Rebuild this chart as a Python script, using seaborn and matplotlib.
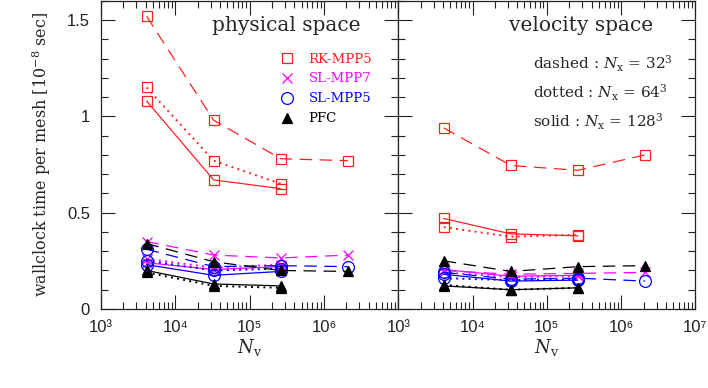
import numpy as np
import pandas as pd
import seaborn as sns
import matplotlib.pyplot as plt
from matplotlib.lines import Line2D
from matplotlib.ticker import FixedLocator, LogLocator, FuncFormatter, MultipleLocator

# N_v = 16^3, 32^3, 64^3, 128^3
nv = [4096, 32768, 262144, 2097152]

# physical space, units 1e-8 sec
rk_phys_32 = [1.52, 0.98, 0.78, 0.77]
rk_phys_64 = [1.15, 0.77, 0.65]
rk_phys_128 = [1.08, 0.67, 0.625]
sl7_phys_32 = [0.35, 0.28, 0.265, 0.28]
sl7_phys_64 = [0.26, 0.215, 0.23]
sl7_phys_128 = [0.24, 0.205, 0.22]
sl5_phys_32 = [0.31, 0.22, 0.225, 0.22]
sl5_phys_64 = [0.25, 0.20, 0.21]
sl5_phys_128 = [0.23, 0.175, 0.195]
pfc_phys_32 = [0.34, 0.245, 0.20, 0.195]
pfc_phys_64 = [0.19, 0.12, 0.11]
pfc_phys_128 = [0.20, 0.13, 0.12]

# velocity space
rk_vel_32 = [0.94, 0.745, 0.72, 0.80]
rk_vel_64 = [0.425, 0.375, 0.385]
rk_vel_128 = [0.47, 0.39, 0.38]
sl7_vel_32 = [0.20, 0.18, 0.185, 0.19]
sl7_vel_64 = [0.19, 0.165, 0.17]
sl7_vel_128 = [0.205, 0.17, 0.175]
sl5_vel_32 = [0.19, 0.155, 0.16, 0.145]
sl5_vel_64 = [0.16, 0.15, 0.155]
sl5_vel_128 = [0.18, 0.145, 0.15]
pfc_vel_32 = [0.25, 0.195, 0.22, 0.225]
pfc_vel_64 = [0.125, 0.10, 0.11]
pfc_vel_128 = [0.12, 0.10, 0.11]

schemes = ['RK-MPP5', 'SL-MPP7', 'SL-MPP5', 'PFC']
nx_labels = ['32', '64', '128']

data = {
    'physical': {
        'RK-MPP5': [rk_phys_32, rk_phys_64, rk_phys_128],
        'SL-MPP7': [sl7_phys_32, sl7_phys_64, sl7_phys_128],
        'SL-MPP5': [sl5_phys_32, sl5_phys_64, sl5_phys_128],
        'PFC': [pfc_phys_32, pfc_phys_64, pfc_phys_128],
    },
    'velocity': {
        'RK-MPP5': [rk_vel_32, rk_vel_64, rk_vel_128],
        'SL-MPP7': [sl7_vel_32, sl7_vel_64, sl7_vel_128],
        'SL-MPP5': [sl5_vel_32, sl5_vel_64, sl5_vel_128],
        'PFC': [pfc_vel_32, pfc_vel_64, pfc_vel_128],
    },
}

rows = []
for space, d in data.items():
    for sch, series in d.items():
        for nx, vals in zip(nx_labels, series):
            for x, y in zip(nv, vals):
                rows.append((space, sch, nx, x, y))
df = pd.DataFrame(rows, columns=['space', 'scheme', 'nx', 'nv', 'time'])

colors = {'RK-MPP5': '#ff2020', 'SL-MPP7': '#ff00ff', 'SL-MPP5': '#0000ff', 'PFC': 'black'}
markers = {'RK-MPP5': 's', 'SL-MPP7': 'x', 'SL-MPP5': 'o', 'PFC': '^'}
linestyles = {'32': (0, (10, 6)), '64': (0, (1, 2.2)), '128': '-'}
linewidths = {'32': 0.9, '64': 1.4, '128': 0.9}

sns.set_style('ticks')
plt.rcParams['font.family'] = ['Liberation Sans', 'DejaVu Sans']
plt.rcParams['mathtext.fontset'] = 'dejavuserif'
plt.rcParams['xtick.direction'] = 'in'
plt.rcParams['ytick.direction'] = 'in'
plt.rcParams['axes.edgecolor'] = '#222222'

fig, axes = plt.subplots(1, 2, figsize=(7.08, 3.88), dpi=100, sharey=True)
fig.subplots_adjust(left=0.1427, right=0.9823, bottom=0.2036, top=0.998, wspace=0)

sup = {3: '\u00b3', 4: '\u2074', 5: '\u2075', 6: '\u2076', 7: '\u2077'}

for ax, space in zip(axes, ['physical', 'velocity']):
    sub = df[df.space == space]
    for sch in schemes:
        for nx in nx_labels:
            s = sub[(sub.scheme == sch) & (sub.nx == nx)]
            filled = sch == 'PFC'
            sns.lineplot(data=s, x='nv', y='time', ax=ax, color=colors[sch],
                         linestyle=linestyles[nx], linewidth=linewidths[nx],
                         marker=markers[sch], markersize=7.5 if sch != 'SL-MPP5' else 8.5,
                         markerfacecolor=colors[sch] if filled else 'none',
                         markeredgecolor=colors[sch], markeredgewidth=0.9,
                         errorbar=None, legend=False)
    ax.set_xscale('log')
    ax.set_xlim(1e3, 1e7)
    ax.set_ylim(0, 1.6)
    ax.xaxis.set_major_locator(FixedLocator([1e3, 1e4, 1e5, 1e6, 1e7]))
    ax.xaxis.set_minor_locator(LogLocator(base=10, subs=np.arange(2, 10), numticks=20))
    ax.yaxis.set_major_locator(MultipleLocator(0.5))
    ax.yaxis.set_minor_locator(MultipleLocator(0.1))
    ax.yaxis.set_major_formatter(FuncFormatter(lambda v, _: '%g' % v))
    ax.tick_params(which='both', top=True, right=True, labelsize=12, width=0.8, colors='#222222')
    ax.tick_params(which='major', length=10)
    ax.tick_params(which='minor', length=5)
    ax.tick_params(axis='x', which='major', pad=8)
    ax.tick_params(axis='y', which='major', pad=8)
    ax.set_xlabel('$N_{\\rm v}$', fontsize=13, labelpad=1)
    ax.set_ylabel('')
    for sp in ax.spines.values():
        sp.set_linewidth(0.9)

axes[0].xaxis.set_major_formatter(FuncFormatter(
    lambda v, _: '' if round(np.log10(v)) == 7 else '10' + sup[int(round(np.log10(v)))]))
axes[1].xaxis.set_major_formatter(FuncFormatter(
    lambda v, _: '10' + sup[int(round(np.log10(v)))]))
axes[1].tick_params(labelleft=False)

axes[0].set_ylabel('wallclock time per mesh [10$^{-8}$ sec]', family='DejaVu Serif',
                   fontsize=11.5, labelpad=10)

axes[0].text(0.874, 0.919, 'physical space', transform=axes[0].transAxes,
             ha='right', va='center', family='DejaVu Serif', fontsize=14.5)
axes[1].text(0.859, 0.919, 'velocity space', transform=axes[1].transAxes,
             ha='right', va='center', family='DejaVu Serif', fontsize=14.5)

notes = ['dashed : $N_{\\rm x}$ = 32$^3$', 'dotted : $N_{\\rm x}$ = 64$^3$',
         'solid : $N_{\\rm x}$ = 128$^3$']
for i, t in enumerate(notes):
    axes[1].text(0.454, 0.795 - i * 0.094, t, transform=axes[1].transAxes,
                 ha='left', va='center', family='DejaVu Serif', fontsize=11)

handles = [Line2D([], [], linestyle='none', marker=markers[s], color=colors[s],
                  markersize=8.5 if s == 'SL-MPP5' else 7.5, markeredgewidth=0.9,
                  markerfacecolor=colors[s] if s == 'PFC' else 'none')
           for s in schemes]
leg = axes[0].legend(handles, schemes, loc='upper left', bbox_to_anchor=(0.602, 0.832),
                     frameon=False, borderpad=0, borderaxespad=0, handlelength=1.0,
                     handletextpad=1.17, labelspacing=0.52,
                     prop={'family': 'DejaVu Serif', 'size': 9.5},
                     labelcolor=[colors[s] for s in schemes])

plt.savefig('out.png', dpi=100)
